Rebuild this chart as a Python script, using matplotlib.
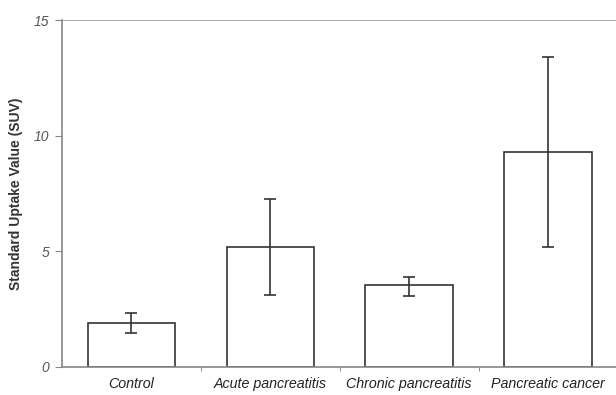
import numpy as np
import matplotlib
matplotlib.use('Agg')
import matplotlib.pyplot as plt

plt.rcParams['font.family'] = ['Liberation Sans', 'DejaVu Sans']

categories = ['Control', 'Acute pancreatitis', 'Chronic pancreatitis', 'Pancreatic cancer']
suv_mean = [1.9, 5.2, 3.55, 9.3]
err_low = [1.47, 3.11, 3.07, 5.19]
err_high = [2.33, 7.26, 3.9, 13.4]

mean = np.array(suv_mean)
yerr = np.array([mean - np.array(err_low), np.array(err_high) - mean])
x = np.arange(len(categories))

fig = plt.figure(figsize=(6.16, 3.95), dpi=100)
ax = fig.add_axes([62 / 616, 1 - 367 / 395, 1 - 62 / 616, 347 / 395])

ax.bar(x, mean, width=0.63, color='white', edgecolor='#333333', linewidth=1.2, zorder=2)
ax.errorbar(x, mean, yerr=yerr, fmt='none', ecolor='#333333', elinewidth=1.2,
            capsize=4, capthick=1.2, zorder=3)

ax.set_xlim(-0.5, 3.49)
ax.set_ylim(0, 15)
ax.set_yticks([0, 5, 10, 15])
ax.axhline(15, color='#999999', linewidth=1.2, zorder=1)

# category labels centred, tick marks at category boundaries
ax.set_xticks(x)
ax.set_xticklabels(categories, fontstyle='italic', fontsize=10.3, color='#222222')
ax.tick_params(axis='x', length=0, pad=7)
ax.set_xticks(np.arange(0.5, 3.5, 1), minor=True)
ax.tick_params(axis='x', which='minor', length=3, color='#777777', direction='out')

ax.tick_params(axis='y', length=5, color='#888888', labelsize=10, labelcolor='#555555', pad=4)
for lbl in ax.get_yticklabels():
    lbl.set_fontstyle('italic')

ax.set_ylabel('Standard Uptake Value (SUV)', fontsize=10, fontweight='bold', color='#333333', labelpad=8)

for side in ['top', 'right']:
    ax.spines[side].set_visible(False)
for side in ['left', 'bottom']:
    ax.spines[side].set_color('#888888')
    ax.spines[side].set_linewidth(1.2)

fig.savefig('out.png', dpi=100)
